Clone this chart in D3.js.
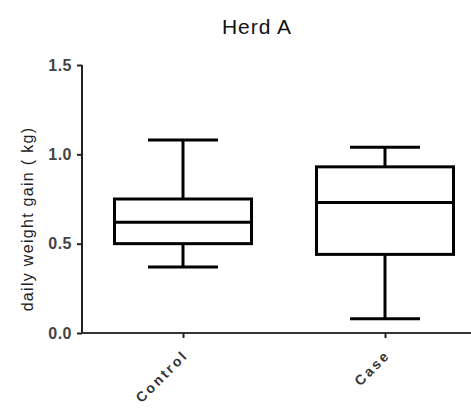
<!DOCTYPE html>
<html>
<head>
<meta charset="utf-8">
<script src="https://cdn.jsdelivr.net/npm/d3@7"></script>
<style>
  html, body { margin: 0; padding: 0; background: #fff; }
  svg { display: block; }
</style>
</head>
<body>
<div id="chart"></div>
<script>
const categories = ["Control", "Case"];
const whiskerLow  = [0.37, 0.08];
const q1          = [0.50, 0.44];
const medians     = [0.62, 0.73];
const q3          = [0.75, 0.93];
const whiskerHigh = [1.08, 1.04];
const yTicks = [0.0, 0.5, 1.0, 1.5];
const chartTitle = "Herd A";
const yLabel = "daily weight gain ( kg)";

const W = 471, H = 411;
const mLeft = 82, mBottom = 333, mTop = 65, mRight = 486;
const FONT = "Liberation Sans, Arial, sans-serif";

const svg = d3.select("#chart").append("svg").attr("width", W).attr("height", H);

const y = d3.scaleLinear().domain([0, 1.5]).range([mBottom, mTop]);
const x = d3.scalePoint().domain(categories).range([mLeft, mRight]).padding(0.5);
const boxW = 137, capW = 70;

// Title
svg.append("text").attr("x", 257).attr("y", 34).attr("text-anchor", "middle")
  .attr("font-family", FONT).attr("font-size", 21)
  .attr("letter-spacing", 1).attr("fill", "#111").text(chartTitle);

// Y axis
const yAxis = svg.append("g").attr("transform", `translate(${mLeft},0)`)
  .call(d3.axisLeft(y).tickValues(yTicks).tickFormat(d3.format(".1f")).tickSize(5).tickPadding(5));
yAxis.select(".domain").attr("stroke", "#222").attr("stroke-width", 2).attr("d", `M0,${mTop}V${mBottom}`);
yAxis.selectAll(".tick line").attr("stroke", "#222").attr("stroke-width", 2);
yAxis.selectAll(".tick text").attr("font-family", FONT).attr("font-weight", "bold")
  .attr("font-size", 16).attr("fill", "#444").attr("letter-spacing", 0.5);

// X axis
const xAxis = svg.append("g").attr("transform", `translate(0,${mBottom})`)
  .call(d3.axisBottom(x).tickSize(5).tickFormat(""));
xAxis.select(".domain").attr("stroke", "#333").attr("stroke-width", 2).attr("d", `M${mLeft},0H${W}`);
xAxis.selectAll(".tick line").attr("stroke", "#222").attr("stroke-width", 2);

// Category labels
svg.append("g").selectAll("text").data(categories).join("text")
  .attr("transform", d => `translate(${x(d) + 6},${mBottom + 23}) rotate(-45)`)
  .attr("text-anchor", "end")
  .attr("font-family", FONT).attr("font-size", 14).attr("font-weight", "bold")
  .attr("letter-spacing", 2.5).attr("fill", "#333").text(d => d);

// Y label
svg.append("text")
  .attr("transform", `translate(33,${(mTop + mBottom) / 2 + 20}) rotate(-90)`)
  .attr("text-anchor", "middle")
  .attr("font-family", FONT).attr("font-size", 16)
  .attr("letter-spacing", 1.3).attr("fill", "#222").text(yLabel);

// Boxes
const g = svg.append("g").attr("stroke", "#000").attr("stroke-width", 3).attr("fill", "none");
categories.forEach((c, i) => {
  const cx = x(c);
  const bg = g.append("g");
  bg.append("line").attr("x1", cx).attr("x2", cx).attr("y1", y(whiskerHigh[i])).attr("y2", y(q3[i]));
  bg.append("line").attr("x1", cx).attr("x2", cx).attr("y1", y(q1[i])).attr("y2", y(whiskerLow[i]));
  bg.append("line").attr("x1", cx - capW / 2).attr("x2", cx + capW / 2).attr("y1", y(whiskerHigh[i])).attr("y2", y(whiskerHigh[i]));
  bg.append("line").attr("x1", cx - capW / 2).attr("x2", cx + capW / 2).attr("y1", y(whiskerLow[i])).attr("y2", y(whiskerLow[i]));
  bg.append("rect").attr("x", cx - boxW / 2).attr("width", boxW)
    .attr("y", y(q3[i])).attr("height", y(q1[i]) - y(q3[i]));
  bg.append("line").attr("x1", cx - boxW / 2).attr("x2", cx + boxW / 2).attr("y1", y(medians[i])).attr("y2", y(medians[i]));
});
</script>
</body>
</html>
